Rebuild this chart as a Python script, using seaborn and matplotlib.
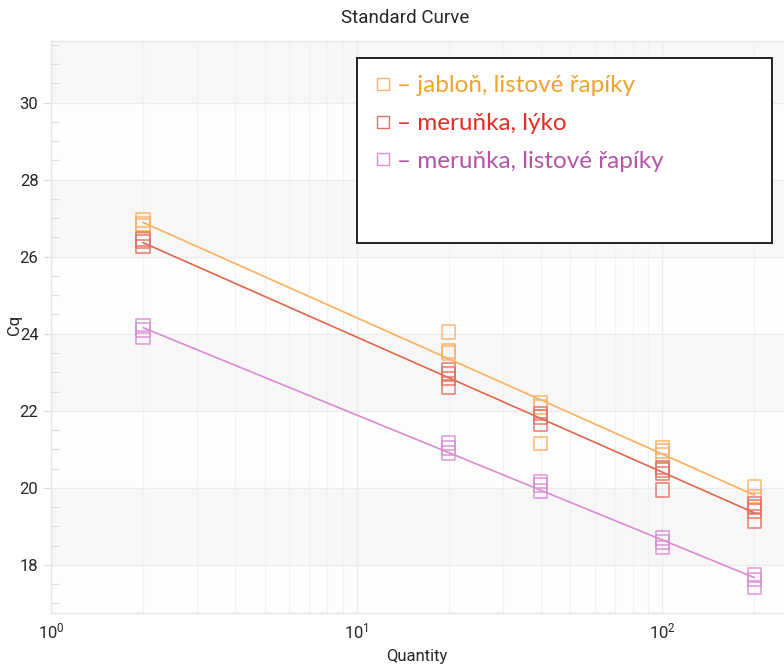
import numpy as np
import pandas as pd
import matplotlib
matplotlib.use("Agg")
import matplotlib.pyplot as plt
from matplotlib.lines import Line2D
from matplotlib.patches import Rectangle
from matplotlib.ticker import LogLocator, MultipleLocator, NullFormatter
import seaborn as sns

# Standard-curve replicates (Cq vs. template quantity)
jablon_qty = [2, 2, 2, 20, 20, 20, 40, 40, 40, 100, 100, 100, 200, 200]
jablon_cq = [26.95, 26.85, 26.80, 24.05, 23.55, 23.50, 22.20, 22.10, 21.15,
             21.05, 20.95, 20.85, 20.03, 19.78]

lyko_qty = [2, 2, 2, 20, 20, 20, 20, 40, 40, 40, 100, 100, 100, 100,
            200, 200, 200, 200]
lyko_cq = [26.46, 26.39, 26.27, 23.06, 22.97, 22.84, 22.60, 21.93, 21.84, 21.64,
           20.53, 20.46, 20.37, 19.95, 19.59, 19.51, 19.40, 19.14]

rapiky_qty = [2, 2, 2, 20, 20, 20, 40, 40, 40, 100, 100, 100, 200, 200, 200]
rapiky_cq = [24.20, 24.10, 23.90, 21.17, 21.03, 20.91, 20.16, 20.07, 19.92,
             18.70, 18.60, 18.45, 17.73, 17.62, 17.41]

series_labels = ["– jabloň, listové řapíky", "– meruňka, lýko",
                 "– meruňka, listové řapíky"]
marker_colors = ["#FBB26A", "#E07262", "#D98FD2"]
line_colors = ["#FFAE5C", "#E0654C", "#D98AD2"]
text_colors = ["#F2A22E", "#EC2A24", "#B455A8"]

y_ticks = [18, 20, 22, 24, 26, 28, 30]
x_ticks = [1, 10, 100]
x_ticklabels = [r"$10^0$", r"$10^1$", r"$10^2$"]

sns.set_theme(style="white")
plt.rcParams["font.family"] = ["Roboto", "DejaVu Sans"]
plt.rcParams["mathtext.fontset"] = "custom"
plt.rcParams["mathtext.rm"] = "Roboto"
plt.rcParams["mathtext.it"] = "Roboto"

fig = plt.figure(figsize=(7.84, 6.67), dpi=100)
ax = fig.add_axes([51 / 784, 1 - 613 / 667, 733 / 784, 572 / 667])
ax.set_xscale("log")
ax.set_xlim(1, 250)
ax.set_ylim(16.75, 31.6)
ax.set_facecolor("#fdfdfd")

# alternating horizontal bands
for lo in range(18, 32, 4):
    ax.axhspan(lo, lo + 2, color="#f7f7f7", zorder=0, lw=0)

ax.xaxis.set_major_locator(LogLocator(base=10, numticks=10))
ax.xaxis.set_minor_locator(LogLocator(base=10, subs=np.arange(2, 10), numticks=20))
ax.xaxis.set_minor_formatter(NullFormatter())
ax.set_xticks(x_ticks)
ax.set_xticklabels(x_ticklabels)
ax.set_yticks(y_ticks)
ax.yaxis.set_minor_locator(MultipleLocator(0.5))

ax.grid(True, which="major", axis="both", color="#ececec", lw=0.9, zorder=0.5)
ax.grid(True, which="minor", axis="x", color="#f1f1f1", lw=0.8, zorder=0.5)
ax.set_axisbelow(True)

for s in ["left", "bottom", "top"]:
    ax.spines[s].set_color("#e6e6e6")
    ax.spines[s].set_linewidth(1.0)
ax.spines["right"].set_visible(False)

ax.tick_params(axis="y", which="major", direction="out", length=6, width=0.8,
               color="#dddddd", labelsize=12, pad=3, left=True)
ax.tick_params(axis="y", which="minor", direction="in", length=6, width=0.8,
               color="#dddddd", left=True)
ax.tick_params(axis="x", which="both", length=0, labelsize=12, pad=6)

datasets = [(jablon_qty, jablon_cq), (lyko_qty, lyko_cq), (rapiky_qty, rapiky_cq)]
for (qty, cq), mc, lc in zip(datasets, marker_colors, line_colors):
    df = pd.DataFrame({"Quantity": qty, "Cq": cq})
    sns.regplot(data=df, x="Quantity", y="Cq", logx=True, ci=None, scatter=False,
                truncate=True, ax=ax, line_kws=dict(color=lc, lw=1.2, zorder=3))
    sns.scatterplot(data=df, x="Quantity", y="Cq", ax=ax, marker="s", s=95,
                    facecolors="none", edgecolor=mc, linewidth=1.2, alpha=0.85,
                    zorder=4, legend=False)

ax.set_xlabel("Quantity", fontsize=12)
ax.set_ylabel("Cq", fontsize=12)
ax.xaxis.set_label_coords((417 - 51) / 733, (613 - 649) / 572)
ax.yaxis.set_label_coords((22 - 51) / 733, (613 - 325) / 572)

fig.text(405 / 784, 1 - 18 / 667, "Standard Curve", ha="center", va="center",
         fontsize=13.5)

# legend box
ax.add_patch(Rectangle((0.4175, 0.647), 0.566, 0.323, transform=ax.transAxes,
                       facecolor="white", edgecolor="#222222", lw=1.4, zorder=6))
handles = [Line2D([], [], marker="s", ls="none", mfc="none", mec=c, mew=1.0, ms=8)
           for c in marker_colors]
leg = ax.legend(handles, series_labels, loc="upper left",
                bbox_to_anchor=(0.413, 0.978), frameon=False, handlelength=0.6,
                handletextpad=0.3, labelspacing=0.68,
                prop=dict(family=["Lato", "DejaVu Sans"], size=17.5))
leg.set_zorder(7)
for t, c in zip(leg.get_texts(), text_colors):
    t.set_color(c)

fig.savefig("out.png", dpi=100)
